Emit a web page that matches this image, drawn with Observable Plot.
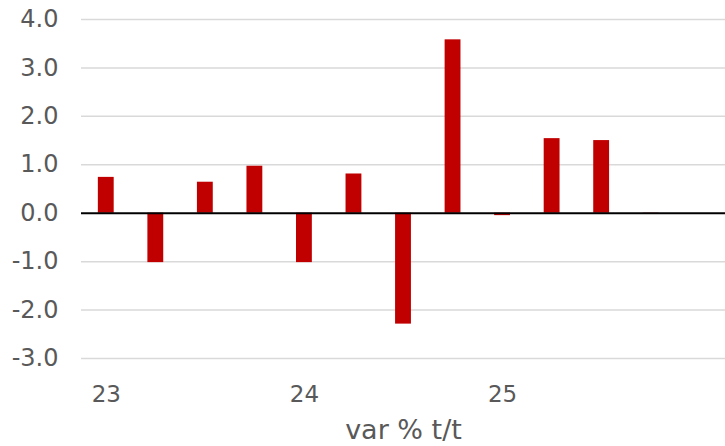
<!DOCTYPE html>
<html>
<head>
<meta charset="utf-8">
<script src="https://cdn.jsdelivr.net/npm/d3@7"></script>
<script src="https://cdn.jsdelivr.net/npm/@observablehq/plot@0.6"></script>
<style>
  html, body { margin: 0; padding: 0; background: #fff; }
</style>
</head>
<body>
<div id="chart"></div>
<script>
const quarters = ["23Q1","23Q2","23Q3","23Q4","24Q1","24Q2","24Q3","24Q4","25Q1","25Q2","25Q3","25Q4","26Q1"];
const values = [0.74, -1.02, 0.64, 0.97, -1.02, 0.81, -2.29, 3.58, -0.05, 1.54, 1.50, -0.01];
const yearLabels = {"23Q1": "23", "24Q1": "24", "25Q1": "25"};
const yTicks = [-3, -2, -1, 0, 1, 2, 3, 4];
const axisTitle = "var % t/t";

const data = values.map((v, i) => ({q: quarters[i], v}));

const chart = Plot.plot({
  width: 725,
  height: 446,
  marginLeft: 81,
  marginRight: 0,
  marginTop: 19,
  marginBottom: 88,
  style: {fontFamily: "'DejaVu Sans', Verdana, sans-serif", background: "#fff", color: "#595959"},
  x: {type: "band", domain: quarters, paddingInner: 0.68, paddingOuter: 0.34, align: 0.5, round: false},
  y: {domain: [-3, 4]},
  marks: [
    Plot.ruleY(yTicks.filter(d => d !== 0), {stroke: "#d9d9d9", strokeWidth: 1.5}),
    Plot.barY(data, {x: "q", y: "v", fill: "#C00000"}),
    Plot.ruleY([0], {stroke: "#000", strokeWidth: 2}),
    Plot.axisY({ticks: yTicks, tickSize: 0, tickPadding: 23, fontSize: 24, fill: "#595959", tickFormat: d => d.toFixed(1), label: null}),
    Plot.axisX({tickSize: 0, tickPadding: 27, fontSize: 23, fill: "#595959", tickFormat: d => yearLabels[d] || "", label: null}),
    Plot.text([axisTitle], {frameAnchor: "bottom", dy: 80, fontSize: 27, fill: "#595959", text: d => d})
  ]
});
document.getElementById("chart").appendChild(chart);
</script>
</body>
</html>
